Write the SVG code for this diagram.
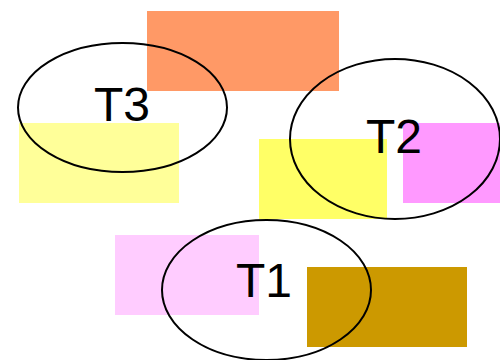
<svg xmlns="http://www.w3.org/2000/svg" width="500" height="360" viewBox="0 0 500 360">
  <style>
    .ring { fill: none; stroke: #000; stroke-width: 2; }
    .label { font-family: "Liberation Sans", Arial, sans-serif; font-size: 48px; fill: #000; text-anchor: middle; }
  </style>
  <rect width="500" height="360" fill="#fff"/>
  <!-- coloured blocks -->
  <g id="blocks">
    <rect x="147" y="11" width="192" height="80" fill="#FF9966"/>
    <rect x="19" y="123" width="160" height="80" fill="#FFFF99"/>
    <rect x="259" y="139" width="128" height="80" fill="#FFFF66"/>
    <rect x="403" y="123" width="97" height="80" fill="#FF99FF"/>
    <rect x="115" y="235" width="144" height="80" fill="#FFCCFF"/>
    <rect x="307" y="267" width="160" height="80" fill="#CC9900"/>
  </g>
  <g id="T3">
    <ellipse class="ring" cx="122.5" cy="107.5" rx="104.5" ry="64.5"/>
    <text class="label" x="122" y="120.5">T3</text>
  </g>
  <g id="T2">
    <ellipse class="ring" cx="395" cy="139" rx="105" ry="80"/>
    <text class="label" x="394" y="152.5">T2</text>
  </g>
  <g id="T1">
    <ellipse class="ring" cx="266.5" cy="290" rx="104.5" ry="70"/>
    <text class="label" x="264" y="297">T1</text>
  </g>
</svg>
